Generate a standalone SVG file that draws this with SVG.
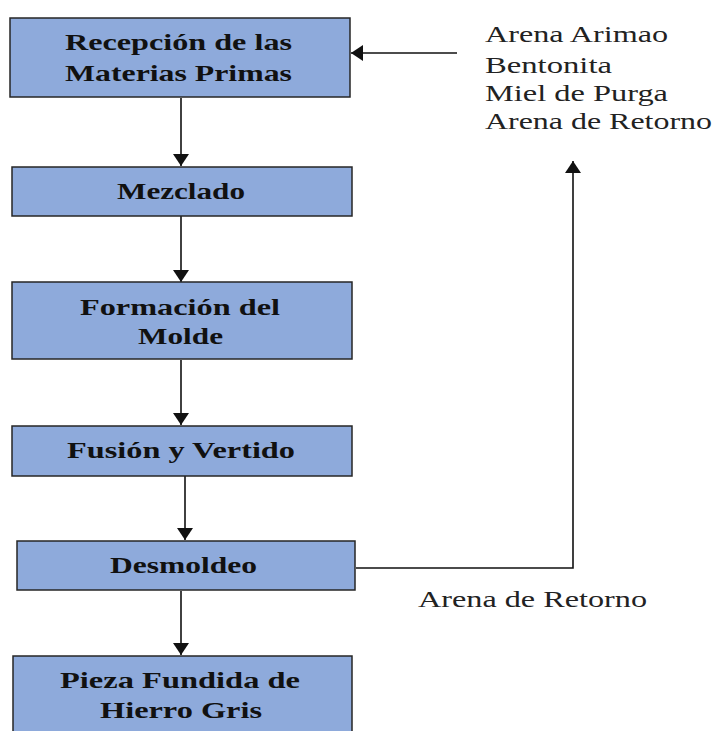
<svg xmlns="http://www.w3.org/2000/svg" width="717" height="731" viewBox="0 0 717 731">
<defs>
<style>
.box{fill:#8eaadb;stroke:#262626;stroke-width:1.5}
.bt{font-family:"Liberation Serif",serif;font-weight:bold;font-size:23px;fill:#111;text-anchor:start}
.pt{font-family:"Liberation Serif",serif;font-size:23px;fill:#222}
.ln{fill:none;stroke:#111;stroke-width:1.6}
</style>
<marker id="ah" viewBox="0 0 12 16" refX="12" refY="8" markerWidth="12" markerHeight="16" markerUnits="userSpaceOnUse" orient="auto">
<path d="M0,0 L12,8 L0,16 Z" fill="#111"/>
</marker>
</defs>
<rect width="717" height="731" fill="#fff"/>
<g id="connectors">
<line class="ln" x1="181" y1="98" x2="181" y2="166" marker-end="url(#ah)"/>
<line class="ln" x1="181" y1="216" x2="181" y2="282" marker-end="url(#ah)"/>
<line class="ln" x1="181" y1="360" x2="181" y2="425" marker-end="url(#ah)"/>
<line class="ln" x1="185" y1="476" x2="185" y2="540" marker-end="url(#ah)"/>
<line class="ln" x1="181" y1="591" x2="181" y2="655" marker-end="url(#ah)"/>
<line class="ln" x1="457" y1="53" x2="351" y2="53" marker-end="url(#ah)"/>
<polyline class="ln" points="356,568 573,568 573,161" marker-end="url(#ah)"/>
</g>
<g id="recepcion">
<rect class="box" x="10" y="18" width="340" height="79"/>
<text class="bt" x="65" y="50" textLength="227" lengthAdjust="spacingAndGlyphs">Recepción de las</text>
<text class="bt" x="65" y="81" textLength="227" lengthAdjust="spacingAndGlyphs">Materias Primas</text>
</g>
<g id="mezclado">
<rect class="box" x="12" y="167" width="340" height="49"/>
<text class="bt" x="117" y="199" textLength="128" lengthAdjust="spacingAndGlyphs">Mezclado</text>
</g>
<g id="formacion">
<rect class="box" x="12" y="282" width="340" height="77"/>
<text class="bt" x="80" y="315" textLength="200" lengthAdjust="spacingAndGlyphs">Formación del</text>
<text class="bt" x="138" y="344" textLength="85" lengthAdjust="spacingAndGlyphs">Molde</text>
</g>
<g id="fusion">
<rect class="box" x="12" y="426" width="340" height="50"/>
<text class="bt" x="67" y="458" textLength="228" lengthAdjust="spacingAndGlyphs">Fusión y Vertido</text>
</g>
<g id="desmoldeo">
<rect class="box" x="17" y="541" width="338" height="49"/>
<text class="bt" x="110" y="573" textLength="147" lengthAdjust="spacingAndGlyphs">Desmoldeo</text>
</g>
<g id="pieza">
<rect class="box" x="13" y="656" width="339" height="80"/>
<text class="bt" x="60" y="688" textLength="240" lengthAdjust="spacingAndGlyphs">Pieza Fundida de</text>
<text class="bt" x="100" y="718" textLength="162" lengthAdjust="spacingAndGlyphs">Hierro Gris</text>
</g>
<g id="materiales">
<text class="pt" x="485" y="42" textLength="183" lengthAdjust="spacingAndGlyphs">Arena Arimao</text>
<text class="pt" x="485" y="73" textLength="127" lengthAdjust="spacingAndGlyphs">Bentonita</text>
<text class="pt" x="485" y="101" textLength="183" lengthAdjust="spacingAndGlyphs">Miel de Purga</text>
<text class="pt" x="485" y="129" textLength="227" lengthAdjust="spacingAndGlyphs">Arena de Retorno</text>
</g>
<g id="retorno-label">
<text class="pt" x="418" y="607" textLength="229" lengthAdjust="spacingAndGlyphs">Arena de Retorno</text>
</g>
</svg>
